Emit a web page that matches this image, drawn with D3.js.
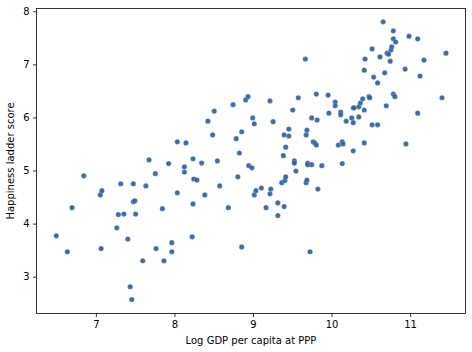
<!DOCTYPE html>
<html>
<head>
<meta charset="utf-8">
<script src="https://cdn.jsdelivr.net/npm/d3@7"></script>
<style>
  body { margin: 0; background: #fff; }
  text { font-family: "DejaVu Sans", sans-serif; }
</style>
</head>
<body>
<script>
    // log GDP per capita at PPP
    var gdp = [6.49, 6.63, 6.69, 6.84, 7.05, 7.07, 7.06, 7.26, 7.28, 7.31, 7.35, 7.40, 7.43, 7.45, 7.47, 7.47, 7.49, 7.50, 7.59, 7.63,
        7.67, 7.75, 7.76, 7.84, 7.86, 7.92, 7.96, 7.96, 8.03, 8.03, 8.12, 8.12, 8.14, 8.22, 8.23, 8.23, 8.24, 8.28, 8.34, 8.38,
        8.42, 8.48, 8.50, 8.54, 8.57, 8.68, 8.74, 8.78, 8.80, 8.82, 8.85, 8.85, 8.90, 8.93, 8.94, 8.98, 8.99, 9.01, 9.01, 9.03,
        9.10, 9.16, 9.21, 9.21, 9.22, 9.25, 9.31, 9.31, 9.36, 9.38, 9.39, 9.39, 9.40, 9.41, 9.41, 9.45, 9.45, 9.50, 9.52, 9.52,
        9.54, 9.57, 9.66, 9.67, 9.67, 9.68, 9.68, 9.69, 9.69, 9.72, 9.74, 9.74, 9.76, 9.78, 9.80, 9.80, 9.81, 9.82, 9.87, 9.95,
        9.96, 10.04, 10.04, 10.08, 10.11, 10.11, 10.13, 10.14, 10.13, 10.18, 10.25, 10.27, 10.28, 10.27, 10.27, 10.34, 10.34, 10.36, 10.39, 10.41,
        10.41, 10.41, 10.42, 10.47, 10.48, 10.51, 10.51, 10.53, 10.58, 10.58, 10.61, 10.65, 10.67, 10.69, 10.70, 10.72, 10.74, 10.75, 10.76, 10.78,
        10.78, 10.78, 10.80, 10.81, 10.93, 10.94, 10.98, 11.09, 11.09, 11.12, 11.17, 11.40, 11.45];
    // happiness ladder score
    var ladder = [3.78, 3.48, 4.31, 4.91, 4.55, 4.63, 3.54, 3.93, 4.18, 4.76, 4.19, 3.72, 2.82, 2.58, 4.76, 4.42, 4.44, 4.19, 3.31, 4.72,
        5.21, 4.95, 3.54, 4.29, 3.31, 5.14, 3.65, 3.48, 5.55, 4.59, 5.08, 4.98, 5.53, 3.76, 5.23, 4.38, 4.85, 4.83, 5.15, 4.55,
        5.94, 5.68, 6.13, 5.19, 4.72, 4.31, 6.25, 5.61, 4.89, 5.34, 5.74, 3.57, 6.34, 6.40, 5.10, 5.06, 6.00, 5.89, 4.55, 4.63,
        4.68, 4.31, 6.32, 4.57, 4.66, 5.93, 4.40, 4.16, 4.78, 5.29, 5.68, 4.33, 4.82, 5.45, 4.89, 5.79, 5.66, 6.15, 5.19, 5.15,
        5.00, 6.38, 7.11, 5.68, 4.78, 5.77, 4.83, 5.15, 5.12, 3.48, 6.00, 5.12, 5.55, 5.53, 5.49, 6.45, 5.96, 4.66, 5.10, 6.43,
        6.09, 6.30, 6.23, 5.49, 6.11, 6.06, 5.55, 5.51, 5.14, 5.94, 6.00, 6.19, 6.19, 5.91, 5.38, 6.21, 6.02, 6.28, 6.36, 6.90,
        6.15, 5.53, 7.11, 6.40, 6.38, 7.30, 5.87, 6.77, 6.66, 5.87, 7.15, 7.81, 6.85, 6.23, 7.22, 7.20, 7.07, 7.28, 7.34, 7.64,
        7.49, 6.45, 6.40, 7.43, 6.92, 5.51, 7.54, 7.49, 6.09, 6.79, 7.09, 6.38, 7.22];
    var xTicks = [7, 8, 9, 10, 11];
    var yTicks = [3, 4, 5, 6, 7, 8];
    var xLabel = "Log GDP per capita at PPP";
    var yLabel = "Happiness ladder score";

    var w = 472
    var h = 352
    var padL = 36.5, padR = 465.5, padT = 8.5, padB = 313.5

    var svg = d3.select("body")
        .append("svg")
        .attr("width", w)
        .attr("height", h)

    var xScale = d3.scaleLinear().domain([6.244, 11.705]).range([padL, padR])
    var yScale = d3.scaleLinear().domain([2.307, 8.052]).range([padB, padT])

    var points = d3.range(gdp.length).map(function(i) {
        return [gdp[i], ladder[i]]
    })

    svg.append("g")
        .selectAll("circle")
        .data(points)
        .enter()
        .append("circle")
        .attr("cx", function(d) { return xScale(d[0]) + 0.5 })
        .attr("cy", function(d) { return yScale(d[1]) + 0.5 })
        .attr("r", 2.6)
        .attr("fill", "#2f5f9f")
        .attr("fill-opacity", 0.92)
        .attr("stroke", "#ffffff")
        .attr("stroke-opacity", 0.5)
        .attr("stroke-width", 0.4)

    // x axis
    var xAxis = svg.append("g")
        .attr("transform", "translate(0," + padB + ")")
        .call(d3.axisBottom(xScale).tickValues(xTicks).tickFormat(d3.format("d")).tickSize(3.5).tickSizeOuter(0).tickPadding(3.5))
    // y axis
    var yAxis = svg.append("g")
        .attr("transform", "translate(" + padL + ",0)")
        .call(d3.axisLeft(yScale).tickValues(yTicks).tickFormat(d3.format("d")).tickSize(3.5).tickSizeOuter(0).tickPadding(3.5))

    ;[xAxis, yAxis].forEach(function(a) {
        a.select(".domain").remove()
        a.selectAll("line").attr("stroke", "#000").attr("stroke-width", 0.8)
        a.selectAll("text").attr("fill", "#000").attr("font-size", "10px").attr("font-family", "DejaVu Sans")
    })

    // frame
    svg.append("rect")
        .attr("x", padL)
        .attr("y", padT)
        .attr("width", padR - padL)
        .attr("height", padB - padT)
        .attr("fill", "none")
        .attr("stroke", "#000")
        .attr("stroke-width", 0.8)

    svg.append("text")
        .attr("x", (padL + padR) / 2)
        .attr("y", 344)
        .attr("text-anchor", "middle")
        .attr("font-size", "10px")
        .text(xLabel)

    svg.append("text")
        .attr("transform", "translate(14," + ((padT + padB) / 2) + ") rotate(-90)")
        .attr("text-anchor", "middle")
        .attr("font-size", "10px")
        .text(yLabel)
</script>
</body>
</html>
